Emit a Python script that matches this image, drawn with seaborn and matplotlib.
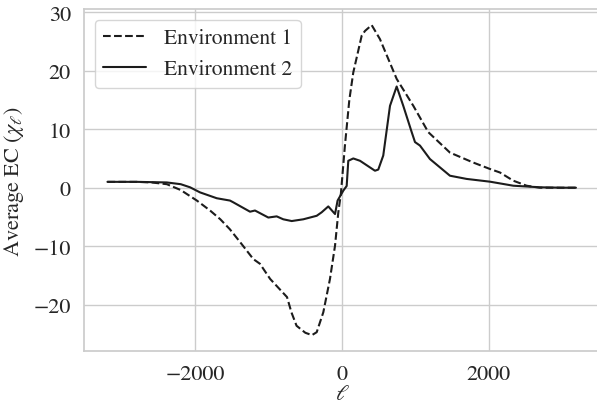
import matplotlib
matplotlib.use("Agg")
import matplotlib.pyplot as plt
import seaborn as sns
import pandas as pd

# Average Euler characteristic curves for two environments
env1_l = [-3200, -2800, -2600, -2390, -2200, -1980, -1800, -1660, -1530, -1390,
          -1210, -1120, -980, -750, -690, -620, -500, -410, -345, -255, -164,
          -95, -50, -15, 40, 100, 154, 269, 314, 405, 518, 746, 973, 1177,
          1473, 1791, 2019, 2155, 2337, 2519, 2700, 3000, 3192]
env1_ec = [1.0, 1.0, 0.9, 0.6, -0.4, -2.2, -3.9, -5.4, -7.1, -9.3,
           -12.2, -13.0, -15.6, -18.7, -21.3, -23.6, -24.8, -25.2, -24.7, -21.3, -15.6,
           -9.9, -4.2, -1.0, 7.2, 15.0, 19.7, 26.0, 26.8, 27.8, 25.4, 18.6, 14.0, 9.5,
           6.0, 4.3, 3.2, 2.6, 1.2, 0.34, 0.0, 0.0, 0.0]

env2_l = [-3200, -2800, -2391, -2200, -2073, -1937, -1800, -1709, -1664, -1528,
          -1483, -1255, -1187, -1005, -891, -801, -686, -528, -345, -277, -187,
          -95, -60, 18, 64, 86, 154, 246, 450, 495, 563, 655, 746, 836, 951,
          996, 1064, 1200, 1473, 1701, 2019, 2337, 2700, 3000, 3192]
env2_ec = [1.0, 1.0, 0.9, 0.6, 0.07, -0.8, -1.4, -1.8, -1.9, -2.2,
           -2.5, -4.1, -3.9, -5.1, -4.9, -5.4, -5.7, -5.4, -4.8, -4.2, -3.2,
           -4.5, -2.2, -0.5, 0.3, 4.6, 5.0, 4.6, 2.9, 3.1, 5.5, 14.0, 17.3, 14.0, 9.5,
           7.8, 7.2, 4.9, 2.05, 1.5, 1.03, 0.34, 0.07, 0.0, 0.0]

series_names = ["Environment 1", "Environment 2"]

sns.set_theme(style="whitegrid")
plt.rcParams["font.family"] = ["STIXGeneral", "DejaVu Serif"]
plt.rcParams["mathtext.fontset"] = "stix"
plt.rcParams["font.size"] = 16

df1 = pd.DataFrame({"ell": env1_l, "ec": env1_ec})
df2 = pd.DataFrame({"ell": env2_l, "ec": env2_ec})

fig = plt.figure(figsize=(5.97, 4.06), dpi=100)
ax = fig.add_axes([0.1407, 0.1322, 0.8643, 0.8432])

line_color = "#1c1c1c"
sns.lineplot(data=df1, x="ell", y="ec", ax=ax, color=line_color, linestyle="--",
             linewidth=1.5, label=series_names[0])
sns.lineplot(data=df2, x="ell", y="ec", ax=ax, color=line_color, linestyle="-",
             linewidth=1.5, label=series_names[1])

ax.set_xlim(-3520, 3520)
ax.set_ylim(-27.97, 30.55)
ax.set_xticks([-2000, 0, 2000])
ax.set_yticks([-20, -10, 0, 10, 20, 30])
ax.tick_params(labelsize=16, colors=".15")
ax.set_xlabel(r"$\ell$", fontsize=16, color=".15", labelpad=0)
ax.set_ylabel(r"Average EC $(\chi_\ell)$", fontsize=16, color=".15", labelpad=5)

leg = ax.legend(loc="upper left", fontsize=15.5, frameon=True)
for t in leg.get_texts():
    t.set_color(".15")

fig.savefig("out.png", dpi=100)
